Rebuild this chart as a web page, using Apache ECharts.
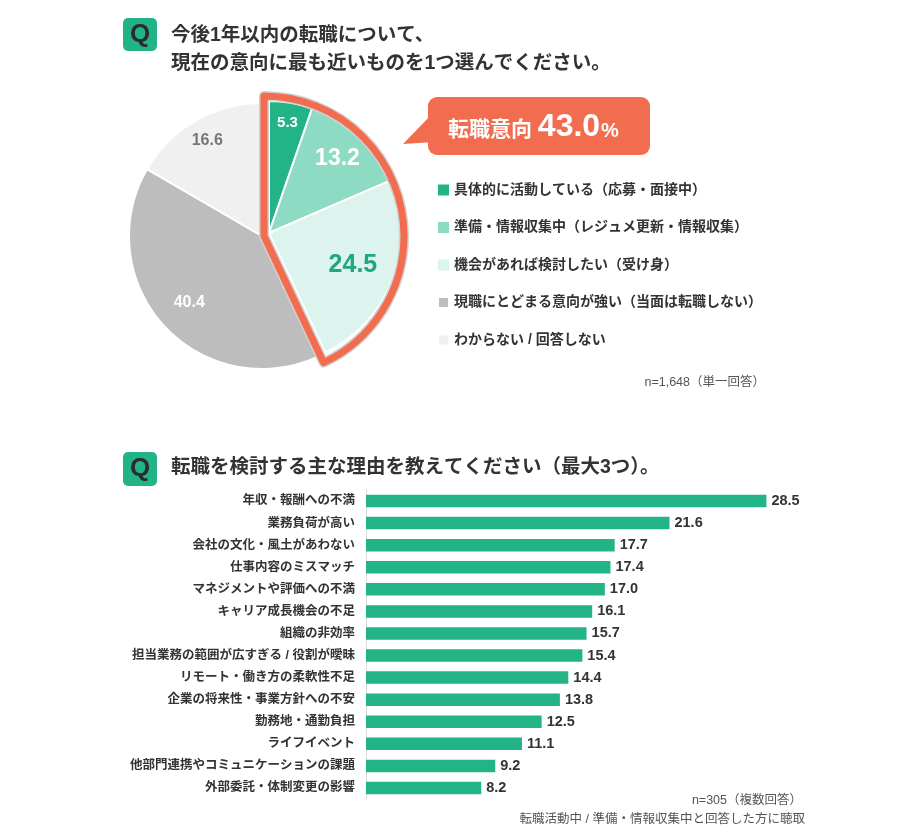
<!DOCTYPE html>
<html>
<head>
    <meta charset="UTF-8">
    <title>転職意向アンケート</title>
    <script src="https://cdn.jsdelivr.net/npm/echarts@6/dist/echarts.min.js"></script>
    <style>
        body { margin: 0; background: #ffffff; }
        #chart { width: 900px; height: 839px; }
    </style>
</head>
<body>
    <div id="chart"></div>
    <script>
        // --- data ---
        var pieNames = [
            '具体的に活動している（応募・面接中）',
            '準備・情報収集中（レジュメ更新・情報収集）',
            '機会があれば検討したい（受け身）',
            '現職にとどまる意向が強い（当面は転職しない）',
            'わからない / 回答しない'
        ];
        var pieValues = [5.3, 13.2, 24.5, 40.4, 16.6];

        var reasons = [
            '年収・報酬への不満',
            '業務負荷が高い',
            '会社の文化・風土があわない',
            '仕事内容のミスマッチ',
            'マネジメントや評価への不満',
            'キャリア成長機会の不足',
            '組織の非効率',
            '担当業務の範囲が広すぎる / 役割が曖昧',
            'リモート・働き方の柔軟性不足',
            '企業の将来性・事業方針への不安',
            '勤務地・通勤負担',
            'ライフイベント',
            '他部門連携やコミュニケーションの課題',
            '外部委託・体制変更の影響'
        ];
        var reasonValues = [28.5, 21.6, 17.7, 17.4, 17.0, 16.1, 15.7, 15.4, 14.4, 13.8, 12.5, 11.1, 9.2, 8.2];

        var pieTitle1 = '今後1年以内の転職について、';
        var pieTitle2 = '現在の意向に最も近いものを1つ選んでください。';
        var barTitle = '転職を検討する主な理由を教えてください（最大3つ）。';
        var pieNote = 'n=1,648（単一回答）';
        var barNote1 = 'n=305（複数回答）';
        var barNote2 = '転職活動中 / 準備・情報収集中と回答した方に聴取';

        // --- styles ---
        var GREEN = '#22b386';
        var ORANGE = '#f26d50';
        var FONT = '"Liberation Sans", "Noto Sans CJK JP", sans-serif';
        var pieColors = ['#22b386', '#8edbc3', '#ddf3ed', '#bdbdbd', '#f0f0f0'];
        var pieLabelColors = ['#ffffff', '#ffffff', '#1fa87c', '#ffffff', '#777777'];
        var pieLabelSizes = [15, 23, 25, 16, 16];
        var pieLabelReach = [0.81, 0.73, 0.65, 0.71, 0.79];   // label distance / radius
        var greyCenter = [262, 236], greyR = 133;
        var greenCenter = [269, 233], greenR = 132;
        var ringCenter = [264, 236], ringR = 140;
        var nGreen = 3;

        var intent = 0;
        for (var k = 0; k < nGreen; k++) intent += pieValues[k];

        // push "inside" labels (placed at r/2) out to the wanted radius
        function reach(center) {
            return function (p) {
                var r = p.labelRect;
                var lx = r.x + r.width / 2, ly = r.y + r.height / 2;
                var f = pieLabelReach[p.dataIndex] / 0.5 - 1;
                return { dx: (lx - center[0]) * f, dy: (ly - center[1]) * f };
            };
        }

        function slices(part) {
            return pieValues.map(function (v, i) {
                var mine = part === 'green' ? i < nGreen : i >= nGreen;
                if (!mine) {
                    return { name: pieNames[i], value: v,
                        itemStyle: { color: 'transparent', borderWidth: 0 }, label: { show: false } };
                }
                return {
                    name: pieNames[i], value: v,
                    itemStyle: { color: pieColors[i], borderColor: '#ffffff', borderWidth: 2 },
                    label: { color: pieLabelColors[i], fontSize: pieLabelSizes[i] }
                };
            });
        }

        function ring(color, width) {
            return {
                type: 'pie', silent: true, center: ringCenter, radius: ringR,
                startAngle: 90, label: { show: false }, emphasis: { disabled: true },
                data: [
                    { name: 'ring', value: intent,
                      itemStyle: { color: 'transparent', borderColor: color, borderWidth: width, borderJoin: 'round' } },
                    { name: 'rest', value: 100 - intent,
                      itemStyle: { color: 'transparent', borderWidth: 0 } }
                ]
            };
        }

        var pieLabel = {
            show: true, position: 'inside', fontFamily: FONT, fontWeight: 'bold',
            formatter: function (p) { return p.value.toFixed(1); }
        };

        var chart = echarts.init(document.getElementById('chart'), null, { renderer: 'canvas' });

        chart.setOption({
            animation: false,
            backgroundColor: '#ffffff',
            textStyle: { fontFamily: FONT },
            legend: {
                orient: 'vertical', left: 432, top: 177,
                itemWidth: 11, itemHeight: 11, itemGap: 21.5,
                icon: 'rect', selectedMode: false,
                textStyle: { fontSize: 14, fontWeight: 'bold', color: '#333333', lineHeight: 16, fontFamily: FONT },
                data: pieNames.map(function (n, i) {
                    return { name: n, itemStyle: { color: pieColors[i] } };
                })
            },
            grid: { left: 366, right: 112.5, top: 490, height: 309 },
            xAxis: { type: 'value', min: 0, max: 30, show: false },
            yAxis: {
                type: 'category', inverse: true, data: reasons,
                axisLine: { show: true, lineStyle: { color: '#dddddd', width: 1 } },
                axisTick: { show: false },
                axisLabel: { fontSize: 12.5, fontWeight: 'bold', color: '#333333', margin: 11, fontFamily: FONT }
            },
            series: [
                {
                    type: 'pie', silent: true, center: greyCenter, radius: greyR, startAngle: 90,
                    avoidLabelOverlap: false, emphasis: { disabled: true },
                    label: pieLabel, labelLine: { show: false },
                    labelLayout: reach(greyCenter),
                    data: slices('grey')
                },
                {
                    type: 'pie', silent: true, center: greenCenter, radius: greenR, startAngle: 90,
                    avoidLabelOverlap: false, emphasis: { disabled: true },
                    label: pieLabel, labelLine: { show: false },
                    labelLayout: reach(greenCenter),
                    data: slices('green')
                },
                ring('#d2d2d2', 10),
                ring(ORANGE, 7),
                {
                    type: 'bar', data: reasonValues, barWidth: 12.5, silent: true,
                    itemStyle: { color: GREEN },
                    label: {
                        show: true, position: 'right', distance: 5,
                        fontSize: 14.5, fontWeight: 'bold', color: '#333333', fontFamily: FONT,
                        formatter: function (p) { return p.value.toFixed(1); }
                    }
                }
            ],
            graphic: [
                // question 1 heading
                { type: 'rect', shape: { x: 123, y: 18, width: 34, height: 33, r: 5 }, style: { fill: GREEN } },
                { type: 'text', x: 140, y: 35, style: { text: 'Q', font: 'bold 26px ' + FONT, fill: '#2b2b2b', align: 'center', verticalAlign: 'middle' } },
                { type: 'text', x: 171, y: 36, style: { text: pieTitle1, font: 'bold 19.5px ' + FONT, fill: '#333333', verticalAlign: 'middle' } },
                { type: 'text', x: 171, y: 64, style: { text: pieTitle2, font: 'bold 19.5px ' + FONT, fill: '#333333', verticalAlign: 'middle' } },
                // callout bubble
                { type: 'polygon', shape: { points: [[403, 144], [434, 112], [434, 142]] }, style: { fill: ORANGE } },
                { type: 'rect', shape: { x: 428, y: 97, width: 222, height: 58, r: 9 }, style: { fill: ORANGE } },
                {
                    type: 'text', x: 448, y: 127,
                    style: {
                        text: '{a|転職意向 }{b|' + intent.toFixed(1) + '}{c|%}',
                        verticalAlign: 'middle',
                        rich: {
                            a: { font: 'bold 21px ' + FONT, fill: '#ffffff', verticalAlign: 'bottom', padding: [0, 0, 2, 0] },
                            b: { font: 'bold 32px ' + FONT, fill: '#ffffff', verticalAlign: 'bottom' },
                            c: { font: 'bold 20px ' + FONT, fill: '#ffffff', verticalAlign: 'bottom', padding: [0, 0, 2, 1] }
                        }
                    }
                },
                { type: 'text', x: 765, y: 383, style: { text: pieNote, font: '12.5px ' + FONT, fill: '#555555', align: 'right', verticalAlign: 'middle' } },
                // question 2 heading
                { type: 'rect', shape: { x: 123, y: 452, width: 34, height: 34, r: 5 }, style: { fill: GREEN } },
                { type: 'text', x: 140, y: 469, style: { text: 'Q', font: 'bold 26px ' + FONT, fill: '#2b2b2b', align: 'center', verticalAlign: 'middle' } },
                { type: 'text', x: 171, y: 468, style: { text: barTitle, font: 'bold 19.5px ' + FONT, fill: '#333333', verticalAlign: 'middle' } },
                { type: 'text', x: 802, y: 801, style: { text: barNote1, font: '12.5px ' + FONT, fill: '#555555', align: 'right', verticalAlign: 'middle' } },
                { type: 'text', x: 805, y: 820, style: { text: barNote2, font: '12.5px ' + FONT, fill: '#555555', align: 'right', verticalAlign: 'middle' } }
            ]
        });
    </script>
</body>
</html>
